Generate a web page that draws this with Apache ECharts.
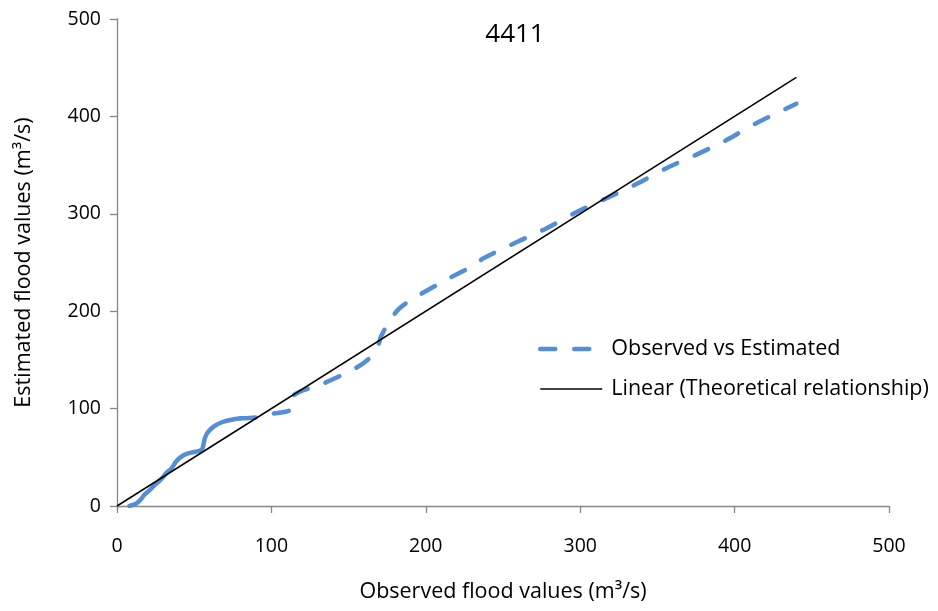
<!DOCTYPE html>
<html>
<head>
<meta charset="utf-8">
<script src="https://cdn.jsdelivr.net/npm/echarts@6/dist/echarts.min.js"></script>
<style>
  html, body { margin: 0; padding: 0; background: #fff; }
  #chart { width: 938px; height: 611px; }
</style>
</head>
<body>
<div id="chart"></div>
<script>
// Station 4411: observed vs estimated flood values (m³/s)
const chartTitle = '4411';

// Dense low-flow part of the curve
const lowObserved  = [8, 12, 15, 18, 21, 24, 27, 30, 32, 35, 38, 41, 46, 52, 55, 56, 57, 59, 63, 68, 74, 80];
const lowEstimated = [0, 2, 6, 12, 16, 21, 25, 30, 34, 38, 45, 50, 54, 56, 58, 63, 70, 76, 82, 86, 88.5, 90];

// Remaining part of the curve
const highObserved  = [80, 90, 100, 110, 112, 111, 118, 131, 149, 160, 168, 171, 177, 183, 194, 213, 231, 237, 259, 278, 298, 317, 337, 356, 375, 395, 414, 440];
const highEstimated = [90, 91, 94.5, 97, 99, 108, 117, 124, 137, 147, 160, 174, 191, 203, 215, 232, 247, 254, 271, 285, 302, 316, 331, 347, 360.5, 376, 393, 413];

// Theoretical 1:1 relationship
const lineObserved  = [0, 440];
const lineEstimated = [0, 440];

const axisTicks = [0, 100, 200, 300, 400, 500];

const seriesNames = ['Observed vs Estimated', 'Linear (Theoretical relationship)'];

const zip = (xs, ys) => xs.map((x, i) => [x, ys[i]]);

const font = '"Open Sans", Lato, sans-serif';
const axisGray = '#868686';
const blue = '#558ED5';
const dashPattern = [15, 19];

const valueAxis = (name, gap, labelMargin) => ({
  type: 'value',
  min: axisTicks[0],
  max: axisTicks[axisTicks.length - 1],
  interval: axisTicks[1] - axisTicks[0],
  name: name,
  nameLocation: 'middle',
  nameGap: gap,
  nameTextStyle: { color: '#000', fontFamily: font, fontSize: 21.5 },
  axisLine: { show: true, onZero: false, lineStyle: { color: axisGray, width: 1.3 } },
  axisTick: { show: true, inside: false, length: 7, lineStyle: { color: axisGray, width: 1.3 } },
  axisLabel: { color: '#000', fontFamily: font, fontSize: 19.5, margin: labelMargin },
  splitLine: { show: false }
});

const chart = echarts.init(document.getElementById('chart'), null, { renderer: 'canvas' });

chart.setOption({
  animation: false,
  backgroundColor: '#fff',
  title: {
    text: chartTitle,
    left: 510,
    top: 17,
    textAlign: 'center',
    textStyle: { color: '#000', fontFamily: font, fontSize: 26, fontWeight: 'normal' }
  },
  grid: { left: 117, right: 49, top: 19, bottom: 105, containLabel: false, outerBoundsMode: 'none' },
  xAxis: valueAxis('Observed flood values (m³/s)', 75, 30),
  yAxis: valueAxis('Estimated flood values (m³/s)', 82, 16),
  legend: {
    orient: 'vertical',
    left: 538,
    top: 338,
    padding: 0,
    itemWidth: 62,
    itemHeight: 14,
    itemGap: 18,
    itemStyle: { color: 'transparent', borderWidth: 0 },
    textStyle: { color: '#000', fontFamily: font, fontSize: 21.5, padding: [0, 0, 0, 4] },
    data: [
      { name: seriesNames[0], lineStyle: { color: blue, width: 4.5, type: dashPattern, cap: 'round' } },
      { name: seriesNames[1], lineStyle: { color: '#000', width: 1.5 } }
    ]
  },
  series: [
    {
      name: seriesNames[0],
      type: 'line',
      data: zip(highObserved, highEstimated),
      smooth: 0.3,
      symbol: 'none',
      lineStyle: { color: blue, width: 4.5, type: dashPattern, cap: 'round', join: 'round' },
      itemStyle: { color: blue },
      z: 3
    },
    {
      name: seriesNames[0],
      type: 'line',
      data: zip(lowObserved, lowEstimated),
      smooth: 0.3,
      symbol: 'none',
      lineStyle: { color: blue, width: 4.5, cap: 'round', join: 'round' },
      itemStyle: { color: blue },
      z: 3
    },
    {
      name: seriesNames[1],
      type: 'line',
      data: zip(lineObserved, lineEstimated),
      symbol: 'none',
      lineStyle: { color: '#000', width: 1.5 },
      itemStyle: { color: '#000' },
      z: 4
    }
  ]
});
</script>
</body>
</html>
